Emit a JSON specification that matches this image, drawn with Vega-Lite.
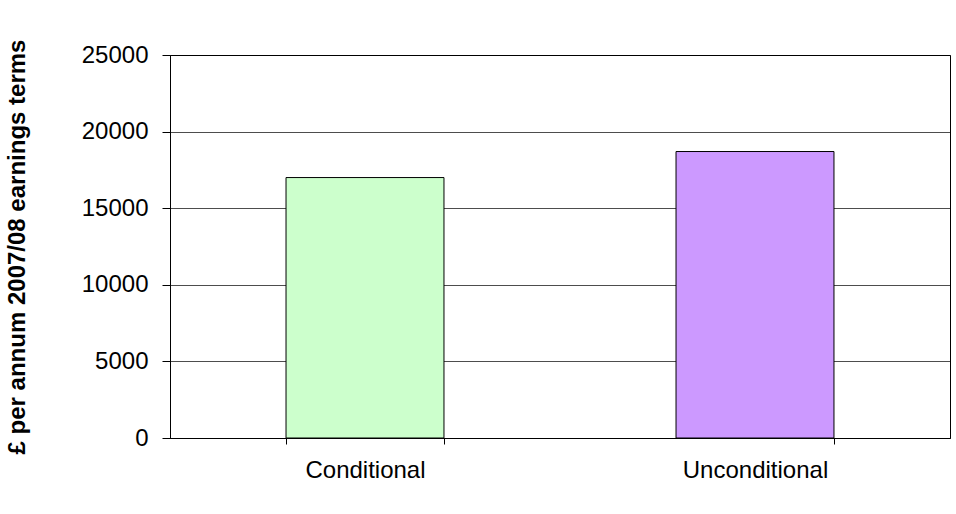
{
  "$schema": "https://vega.github.io/schema/vega-lite/v6.json",
  "width": 780,
  "height": 383,
  "autosize": "none",
  "padding": {"left": 170, "top": 55, "right": 6, "bottom": 76},
  "background": "white",
  "data": {"values": [
    {"type": "Conditional", "value": 17000},
    {"type": "Unconditional", "value": 18700}
  ]},
  "mark": {"type": "bar", "stroke": "black", "strokeWidth": 1},
  "encoding": {
    "x": {"field": "type", "type": "nominal", "sort": null, "title": null,
      "scale": {"paddingInner": 0.595, "paddingOuter": 0.2975},
      "axis": {"labelAngle": 0, "labelFont": "Liberation Sans", "labelFontSize": 24, "labelColor": "black",
        "labelPadding": 14, "domainColor": "black", "tickColor": "black", "tickBand": "extent", "tickSize": 6, "grid": false}},
    "y": {"field": "value", "type": "quantitative", "title": "£ per annum  2007/08 earnings terms",
      "scale": {"domain": [0, 25000]},
      "axis": {"values": [0, 5000, 10000, 15000, 20000, 25000], "format": "d",
        "labelFont": "Liberation Sans", "labelFontSize": 24, "labelColor": "black", "labelPadding": 14,
        "titleFont": "Liberation Sans", "titleFontSize": 24, "titleFontWeight": "bold", "titleColor": "black", "titlePadding": 52,
        "domainColor": "black", "tickColor": "black", "tickSize": 8, "gridColor": "black", "gridWidth": 0.7}},
    "color": {"field": "type", "type": "nominal", "legend": null,
      "scale": {"range": ["#ccffcc", "#cc99ff"]}}
  },
  "config": {"view": {"stroke": "black", "strokeWidth": 1}}
}
